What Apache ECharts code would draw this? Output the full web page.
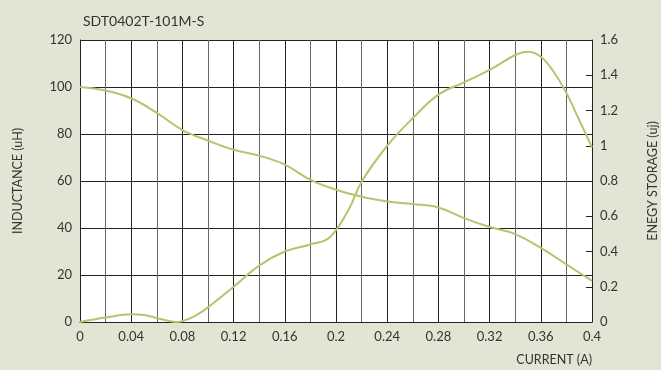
<!DOCTYPE html>
<html>
<head>
<meta charset="utf-8">
<script src="https://cdn.jsdelivr.net/npm/echarts@6/dist/echarts.min.js"></script>
<style>
  html, body { margin: 0; padding: 0; background: #e3e4d3; }
  #chart { width: 661px; height: 370px; }
</style>
</head>
<body>
<div id="chart"></div>
<script>
// inductance curve (left axis, uH)
var currentL = [0, 0.02, 0.04, 0.06, 0.08, 0.10, 0.12, 0.14, 0.16, 0.18, 0.20, 0.22, 0.24, 0.26, 0.28, 0.30, 0.32, 0.34, 0.36, 0.38, 0.40];
var inductance = [100, 98.5, 95.2, 89, 81.7, 77.2, 73.3, 70.8, 67, 60.5, 56.3, 53.3, 51.3, 50.2, 48.7, 44.2, 40.4, 37.4, 31.5, 24.5, 17.5];

// energy storage curve (right axis, uj)
var currentE = [0, 0.02, 0.04, 0.05, 0.06, 0.07, 0.075, 0.08, 0.09, 0.10, 0.12, 0.14, 0.16, 0.18, 0.195, 0.21, 0.22, 0.24, 0.26, 0.28, 0.30, 0.32, 0.34, 0.35, 0.36, 0.37, 0.38, 0.39, 0.40];
var energy = [0, 0.025, 0.044, 0.04, 0.022, 0.005, 0, 0.005, 0.035, 0.083, 0.2, 0.32, 0.40, 0.44, 0.48, 0.64, 0.796, 1.0, 1.157, 1.29, 1.36, 1.43, 1.515, 1.534, 1.505, 1.42, 1.3, 1.146, 0.99];

function pairs(xs, ys) {
  return xs.map(function (x, i) { return [x, ys[i]]; });
}
function fmt(v) {
  return String(+v.toFixed(2));
}

var txt = '#333';
var lineColor = '#b5c46e';
var chart = echarts.init(document.getElementById('chart'));
chart.setOption({
  backgroundColor: '#e3e4d3',
  animation: false,
  title: {
    text: 'SDT0402T-101M-S',
    left: 78,
    top: 9,
    textStyle: { fontFamily: 'Lato', fontSize: 14, fontWeight: 'normal', color: txt }
  },
  grid: {
    left: 80, right: 69, top: 40, bottom: 48,
    outerBoundsMode: 'none', containLabel: false,
    show: true, backgroundColor: '#fff', borderWidth: 0
  },
  xAxis: {
    type: 'value',
    min: 0, max: 0.4, interval: 0.04,
    name: 'CURRENT (A)',
    nameLocation: 'end',
    nameGap: 0,
    nameTextStyle: { fontFamily: 'Lato', fontSize: 12.5, color: txt, align: 'right', verticalAlign: 'top', padding: [31, 0, 0, 0] },
    axisLine: { show: true, lineStyle: { color: '#222', width: 1 } },
    axisTick: { show: false },
    axisLabel: { formatter: fmt, fontFamily: 'Lato', fontSize: 13, color: txt, margin: 8 },
    splitLine: { show: true, lineStyle: { color: '#222', width: 1 } },
    minorTick: { show: false, splitNumber: 2 },
    minorSplitLine: { show: true, lineStyle: { color: '#666', width: 1 } }
  },
  yAxis: [{
    type: 'value',
    min: 0, max: 120, interval: 20,
    name: 'INDUCTANCE (uH)',
    nameLocation: 'middle',
    nameGap: 56,
    nameTextStyle: { fontFamily: 'Lato', fontSize: 12.5, color: txt },
    axisLine: { show: true, lineStyle: { color: '#222', width: 1 } },
    axisTick: { show: false },
    axisLabel: { fontFamily: 'Lato', fontSize: 13, color: txt, margin: 8 },
    splitLine: { show: true, lineStyle: { color: '#222', width: 1 } }
  }, {
    type: 'value',
    position: 'right',
    min: 0, max: 1.6, interval: 0.2,
    name: 'ENEGY STORAGE (uj)',
    nameLocation: 'middle',
    nameGap: 54,
    nameRotate: 90,
    nameTextStyle: { fontFamily: 'Lato', fontSize: 12.5, color: txt },
    axisLine: { show: true, lineStyle: { color: '#222', width: 1 } },
    axisTick: { show: true, inside: true, length: 6, lineStyle: { color: '#222' } },
    axisLabel: { formatter: fmt, fontFamily: 'Lato', fontSize: 13, color: txt, margin: 8 },
    splitLine: { show: false }
  }],
  series: [{
    type: 'line',
    yAxisIndex: 0,
    data: pairs(currentL, inductance),
    smooth: 0.4,
    showSymbol: false,
    lineStyle: { color: lineColor, width: 2 }
  }, {
    type: 'line',
    yAxisIndex: 1,
    data: pairs(currentE, energy),
    smooth: 0.4,
    showSymbol: false,
    lineStyle: { color: lineColor, width: 2 }
  }]
});
</script>
</body>
</html>
